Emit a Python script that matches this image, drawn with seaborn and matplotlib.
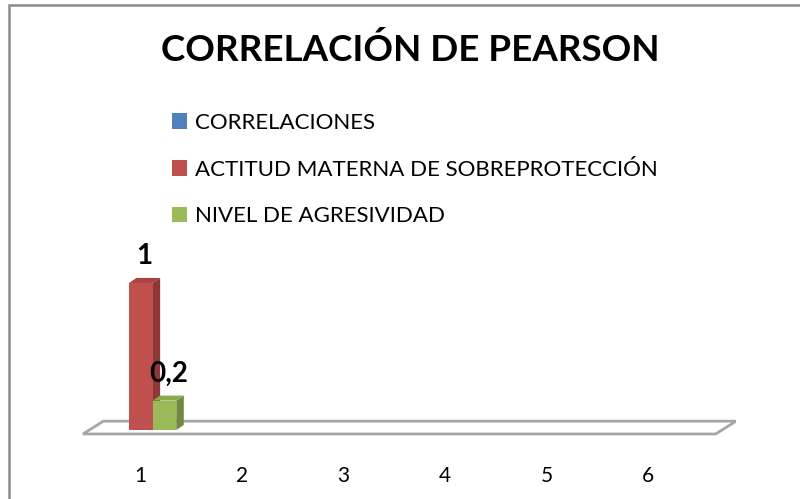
import matplotlib
matplotlib.use("Agg")
import matplotlib.pyplot as plt
import seaborn as sns
import pandas as pd
from matplotlib.patches import Polygon, Rectangle

categories = ["1", "2", "3", "4", "5", "6"]
series_names = ["CORRELACIONES", "ACTITUD MATERNA DE SOBREPROTECCIÓN", "NIVEL DE AGRESIVIDAD"]
correlaciones = [0, None, None, None, None, None]
actitud = [1, None, None, None, None, None]
agresividad = [0.2, None, None, None, None, None]
value_labels = {"ACTITUD MATERNA DE SOBREPROTECCIÓN": "1", "NIVEL DE AGRESIVIDAD": "0,2"}

colors = ["#4F81BD", "#C0504D", "#9BBB59"]
side_colors = ["#3A5F8C", "#8C3836", "#71893F"]
top_colors = ["#4773A8", "#A8423F", "#8AA84D"]

rows = []
for name, vals in zip(series_names, [correlaciones, actitud, agresividad]):
    for c, v in zip(categories, vals):
        rows.append({"cat": c, "serie": name, "valor": v})
df = pd.DataFrame(rows)

sns.set_style("white")
plt.rcParams["font.family"] = ["Lato", "DejaVu Sans"]
plt.rcParams["text.color"] = "black"
plt.rcParams["xtick.color"] = "black"

fig = plt.figure(figsize=(8, 4.99), dpi=100)
W, H = 800, 499
# axes in pixel terms: x 82..736, y 250..445
ax = fig.add_axes([82 / W, 1 - 445 / H, (736 - 82) / W, (445 - 250) / H])

sns.barplot(data=df, x="cat", y="valor", hue="serie", hue_order=series_names,
            palette=colors, width=0.7, ax=ax, saturation=1, errorbar=None,
            linewidth=0, legend=True, zorder=3)

ax.set_xlim(-0.58, 5.87)
ax.set_ylim(-0.102, 1.224)

# 3D depth offsets in data units
dx = 7.5 / 101.4
dy = 5 / 147.0

# floor
fy0, fy1 = -0.027, 0.06
floor = Polygon([(-0.57, fy0), (5.67, fy0), (5.87, fy1), (-0.37, fy1)],
                closed=True, facecolor="white", edgecolor="#A6A6A6", lw=2, zorder=1)
ax.add_patch(floor)

handles, labels = ax.get_legend_handles_labels()
ax.get_legend().remove()

for i, (name, cont) in enumerate(zip(series_names, ax.containers)):
    for bar in cont:
        h = bar.get_height()
        if not h or h != h:
            continue
        x0 = bar.get_x()
        x1 = x0 + bar.get_width()
        side = Polygon([(x1, 0), (x1 + dx, dy), (x1 + dx, h + dy), (x1, h)],
                       closed=True, facecolor=side_colors[i], lw=0, zorder=2.5)
        top = Polygon([(x0, h), (x0 + dx, h + dy), (x1 + dx, h + dy), (x1, h)],
                      closed=True, facecolor=top_colors[i], lw=0, zorder=2.5)
        ax.add_patch(side)
        ax.add_patch(top)
        if name in value_labels:
            ax.text(x0 + bar.get_width() / 2 + dx / 2, h + 0.18, value_labels[name],
                    ha="center", va="center", fontsize=20, fontweight="bold", zorder=5)

sns.despine(ax=ax, left=True, bottom=True)
ax.set_yticks([])
ax.set_xlabel("")
ax.set_ylabel("")
ax.tick_params(axis="x", length=0, pad=15, labelsize=15)
ax.patch.set_alpha(0)

fig.text(0.5 * (165 + 655) / W, 1 - 50 / H, "CORRELACIÓN DE PEARSON",
         ha="center", va="center", fontsize=26.5, fontweight="bold")

fig.legend(handles, labels, loc="upper left", bbox_to_anchor=(163 / W, 1 - 104 / H),
           frameon=False, fontsize=16, handlelength=0.7, handleheight=0.7,
           handletextpad=0.35, labelspacing=1.2, borderaxespad=0)

fig.patches.append(Rectangle((9 / W, -0.1), 1.2, 1.1 - 5 / H, transform=fig.transFigure,
                             fill=False, edgecolor="#8C8C8C", lw=1.8))

fig.savefig("out.png", dpi=100)
